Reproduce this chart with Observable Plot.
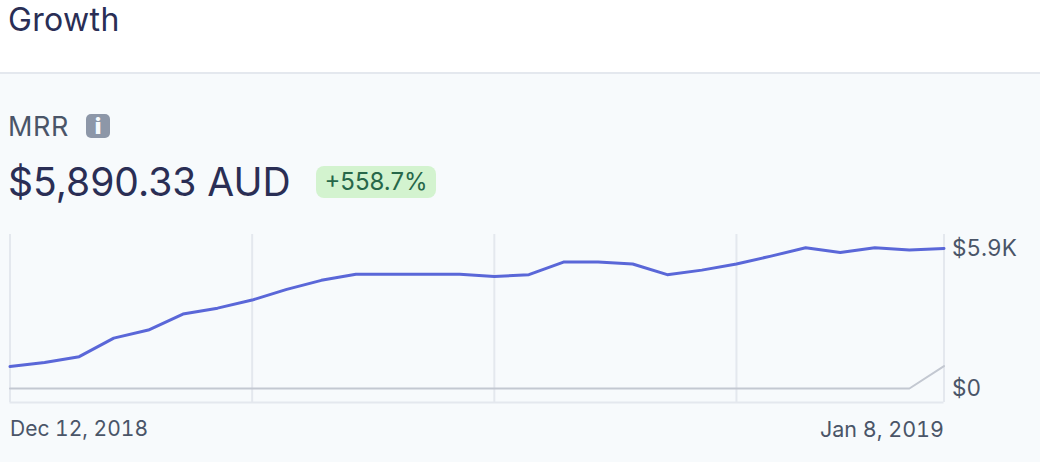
<!DOCTYPE html>
<html>
<head>
<meta charset="utf-8">
<script src="https://cdn.jsdelivr.net/npm/d3@7"></script>
<script src="https://cdn.jsdelivr.net/npm/@observablehq/plot@0.6"></script>
<style>
html,body{margin:0;padding:0;background:#fff;overflow:hidden;font-family:Inter,sans-serif}
#page{position:relative;width:1040px;height:462px;overflow:hidden}
#panel{position:absolute;left:0;top:72px;width:1040px;height:390px;background:#f7fafc;border-top:2px solid #e4e8ee;box-sizing:border-box}
.t{position:absolute;white-space:nowrap;line-height:1}
#title{left:8px;top:4px;font-size:32px;letter-spacing:.35px;color:#2a2e55}
#mrr{left:8px;top:113px;font-size:27px;letter-spacing:.6px;color:#4a5568}
#info{position:absolute;left:86px;top:114px;width:24px;height:24px;border-radius:5px;background:#8d97a8;color:#f7fafc;font:900 22px/24px Inter,sans-serif;text-align:center}
#value{left:8px;top:162px;font-size:39px;color:#2a2e55}
#badge{position:absolute;left:316px;top:166px;width:120px;height:32px;border-radius:8px;background:#d3f3cf;color:#276749;font-size:24px;line-height:32px;text-align:center}
#chart{position:absolute;left:0;top:225px}
svg{display:block;background:transparent !important}
</style>
</head>
<body>
<div id="page">
  <div id="panel"></div>
  <div class="t" id="title">Growth</div>
  <div class="t" id="mrr">MRR</div>
  <div id="info">i</div>
  <div class="t" id="value">$5,890.33 AUD</div>
  <div id="badge">+558.7%</div>
  <div id="chart"></div>
</div>
<script>
const dates = ["2018-12-12","2018-12-13","2018-12-14","2018-12-15","2018-12-16","2018-12-17","2018-12-18",
  "2018-12-19","2018-12-20","2018-12-21","2018-12-22","2018-12-23","2018-12-24","2018-12-25","2018-12-26",
  "2018-12-27","2018-12-28","2018-12-29","2018-12-30","2018-12-31","2019-01-01","2019-01-02","2019-01-03",
  "2019-01-04","2019-01-05","2019-01-06","2019-01-07","2019-01-08"];
const mrr = [925,1090,1340,2120,2460,3130,3380,3720,4170,4550,4810,4810,4810,4810,4710,4790,5320,5320,5240,4790,4980,5240,5570,5925,5720,5925,5825,5890];
const previous = [0,0,0,0,0,0,0,0,0,0,0,0,0,0,0,0,0,0,0,0,0,0,0,0,0,0,0,945];
const gridDates = ["2018-12-12","2018-12-19","2018-12-26","2019-01-02","2019-01-08"];
const yTicks = [0,5890];
const yLabels = ["$0","$5.9K"];
const startTick = ["2018-12-12"], endTick = ["2019-01-08"];
const startLabel = "Dec 12, 2018", endLabel = "Jan 8, 2019";

const d = s => new Date(s + "T00:00:00Z");
const rows = dates.map((s,i)=>({date:d(s),mrr:mrr[i],previous:previous[i]}));

const chart = Plot.plot({
  width:1040, height:237,
  marginLeft:9.5, marginRight:96.5, marginTop:9, marginBottom:60,
  style:{fontFamily:"Inter, sans-serif",background:"transparent",overflow:"visible"},
  x:{type:"utc",domain:[d(dates[0]),d(dates[dates.length-1])]},
  y:{domain:[-589,6479]},
  marks:[
    Plot.ruleX(gridDates.map(d),{stroke:"#e4e8ee",strokeWidth:2,strokeOpacity:1}),
    Plot.ruleY([-589],{stroke:"#e4e8ee",strokeWidth:2,strokeOpacity:1}),
    Plot.lineY(rows,{x:"date",y:"previous",stroke:"#c3c8d1",strokeWidth:2}),
    Plot.lineY(rows,{x:"date",y:"mrr",stroke:"#5a67d8",strokeWidth:3}),
    Plot.axisY(yTicks,{anchor:"right",tickSize:0,tickPadding:8,label:null,
      tickFormat:v=>yLabels[yTicks.indexOf(v)],fontSize:22.5,fill:"#4a5568",textAnchor:"start"}),
    Plot.axisX(startTick.map(d),{anchor:"bottom",tickSize:0,tickPadding:19,label:null,
      tickFormat:()=>startLabel,fontSize:21,fill:"#4a5568",textAnchor:"start"}),
    Plot.axisX(endTick.map(d),{anchor:"bottom",tickSize:0,tickPadding:19,label:null,
      tickFormat:()=>endLabel,fontSize:21.5,fill:"#4a5568",textAnchor:"end"})
  ]
});
document.getElementById("chart").appendChild(chart);
</script>
</body>
</html>
